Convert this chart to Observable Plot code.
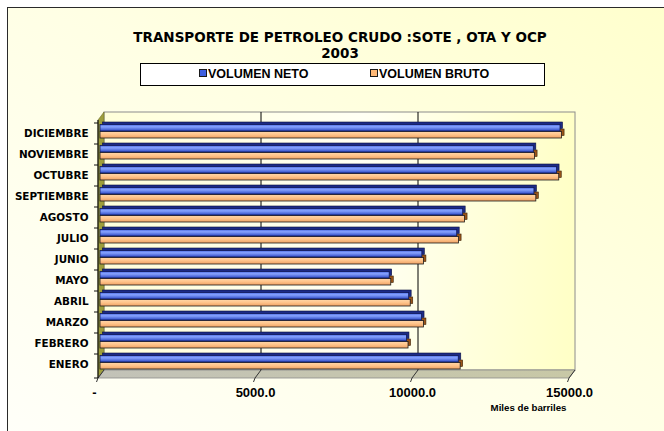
<!DOCTYPE html>
<html>
<head>
<meta charset="utf-8">
<script src="https://cdn.jsdelivr.net/npm/d3@7"></script>
<script src="https://cdn.jsdelivr.net/npm/@observablehq/plot@0.6"></script>
<style>
  html, body { margin: 0; padding: 0; background: #ffffff; }
  #wrap { position: relative; width: 664px; height: 431px; overflow: hidden; background: #ffffff; }
  #frame { position: absolute; left: 7px; top: 7px; width: 680px; height: 450px;
    border-left: 1px solid #2a2a2a; border-top: 1px solid #2a2a2a;
    background: linear-gradient(to bottom left, #FFFFCC 0%, #FFFFE4 45%, #FFFFFA 100%); }
  #title { position: absolute; left: 0; top: 29px; width: 680px; text-align: center;
    font-family: "DejaVu Sans", sans-serif; font-weight: bold; font-size: 13.5px; line-height: 16px; color: #000; }
  #legend { position: absolute; left: 140px; top: 63px; width: 403px; height: 21px;
    background: #fff; border: 1px solid #000; box-sizing: content-box;
    font-family: "Liberation Sans", Arial, sans-serif; font-weight: bold; font-size: 12.5px; color: #000; }
  .li { position: absolute; top: 3px; line-height: 15px; white-space: nowrap; }
  .sw { display: inline-block; width: 6px; height: 6px; border: 1px solid #1a1a1a; margin-right: 1px; vertical-align: 1px; }
  #chart { position: absolute; left: 0; top: 0; }
</style>
</head>
<body>
<svg width="0" height="0" style="position:absolute">
  <defs>
    <linearGradient id="gBlue" x1="0" y1="0" x2="0" y2="1">
      <stop offset="0%" stop-color="#4C6CE4"/>
      <stop offset="35%" stop-color="#88A4FF"/>
      <stop offset="100%" stop-color="#2C48C4"/>
    </linearGradient>
    <linearGradient id="gOrange" x1="0" y1="0" x2="0" y2="1">
      <stop offset="0%" stop-color="#FFD6A8"/>
      <stop offset="45%" stop-color="#FFC58C"/>
      <stop offset="100%" stop-color="#F0A264"/>
    </linearGradient>
    <linearGradient id="gWall" x1="0" y1="0" x2="1" y2="0">
      <stop offset="0%" stop-color="#FFFFDA"/>
      <stop offset="55%" stop-color="#FFFFF4"/>
      <stop offset="100%" stop-color="#FFFFC6"/>
    </linearGradient>
    <linearGradient id="gFloor" x1="0" y1="0" x2="1" y2="0">
      <stop offset="0%" stop-color="#C2C2B8"/>
      <stop offset="100%" stop-color="#C8C8A6"/>
    </linearGradient>
  </defs>
</svg>
<div id="wrap">
  <div id="frame"></div>
  <div id="chart"></div>
  <div id="title"></div>
  <div id="legend"></div>
</div>
<script>
// ---- data ----
const titleLines = ["TRANSPORTE DE PETROLEO CRUDO :SOTE , OTA Y OCP", "2003"];
const months = ["ENERO","FEBRERO","MARZO","ABRIL","MAYO","JUNIO","JULIO","AGOSTO","SEPTIEMBRE","OCTUBRE","NOVIEMBRE","DICIEMBRE"];
const volumenNeto  = [11410, 9760, 10240, 9830, 9210, 10250, 11360, 11550, 13820, 14540, 13800, 14650];
const volumenBruto = [11470, 9810, 10300, 9880, 9260, 10300, 11420, 11610, 13880, 14610, 13840, 14700];
const seriesNames = ["VOLUMEN NETO", "VOLUMEN BRUTO"];
const seriesColors = ["#3F5FE0", "#FFB978"];
const xTicks = [0, 5000, 10000, 15000];
const xTickLabels = ["-", "5000.0", "10000.0", "15000.0"];
const xLabel = "Miles de barriles";

// ---- tables ----
const neto = months.map((m, i) => ({month: m, value: volumenNeto[i]}));
const bruto = months.map((m, i) => ({month: m, value: volumenBruto[i]}));
const xMax = xTicks[xTicks.length - 1];

// ---- title & legend ----
document.getElementById("title").innerHTML = titleLines.join("<br>");
const leg = document.getElementById("legend");
[[58], [229]].forEach(([left], i) => {
  const d = document.createElement("div");
  d.className = "li";
  d.style.left = left + "px";
  d.innerHTML = `<span class="sw" style="background:${seriesColors[i]}"></span>${seriesNames[i]}`;
  leg.appendChild(d);
});

// ---- 3D walls, floor and axis lines drawn from the scales ----
const DX = 6, DY = -8;
function walls(index, scales, values, dim) {
  const x = scales.x;
  const x0 = x(0), x1 = x(xMax);
  const top = dim.marginTop, bot = dim.height - dim.marginBottom;
  const g = d3.create("svg:g");
  // back wall
  g.append("rect").attr("x", x0 + DX).attr("y", top + DY)
    .attr("width", x1 - x0).attr("height", bot - top)
    .attr("fill", "url(#gWall)").attr("stroke", "#8c8c8c").attr("stroke-width", 1);
  // gridlines on back wall
  xTicks.slice(1, -1).forEach(t => {
    g.append("line").attr("x1", x(t) + DX).attr("x2", x(t) + DX)
      .attr("y1", top + DY).attr("y2", bot + DY).attr("stroke", "#000").attr("stroke-width", 1);
  });
  // left wall
  g.append("polygon")
    .attr("points", [[x0, top], [x0 + DX, top + DY], [x0 + DX, bot + DY], [x0, bot]].join(" "))
    .attr("fill", "#9E9E3C").attr("stroke", "#6f6f2a").attr("stroke-width", 0.6);
  // floor
  g.append("polygon")
    .attr("points", [[x0, bot], [x0 + DX, bot + DY], [x1 + DX, bot + DY], [x1, bot]].join(" "))
    .attr("fill", "url(#gFloor)").attr("stroke", "#8c8c8c").attr("stroke-width", 0.8);
  // floor tick lines
  xTicks.forEach(t => {
    g.append("line").attr("x1", x(t) + DX).attr("y1", bot + DY).attr("x2", x(t)).attr("y2", bot)
      .attr("stroke", "#333").attr("stroke-width", 1);
    g.append("line").attr("x1", x(t)).attr("y1", bot).attr("x2", x(t) - 1.5).attr("y2", bot + 4)
      .attr("stroke", "#333").attr("stroke-width", 1);
  });
  return g.node();
}
function axisLines(index, scales, values, dim) {
  const x = scales.x, y = scales.y;
  const x0 = x(0);
  const top = dim.marginTop, bot = dim.height - dim.marginBottom;
  const g = d3.create("svg:g");
  g.append("line").attr("x1", x0).attr("x2", x0).attr("y1", top).attr("y2", bot)
    .attr("stroke", "#111").attr("stroke-width", 1.2);
  const ys = months.map(m => y(m)).concat([bot]);
  ys.forEach(v => g.append("line").attr("x1", x0 - 4).attr("x2", x0).attr("y1", v).attr("y2", v)
    .attr("stroke", "#111").attr("stroke-width", 1));
  return g.node();
}

const barBase = {x: "value", y: "month"};
const blueIn = {insetTop: 3.5, insetBottom: 11};
const orangeIn = {insetTop: 10.5, insetBottom: 4};

const plot = Plot.plot({
  width: 664,
  height: 431,
  marginLeft: 98,
  marginRight: 95,
  marginTop: 120,
  marginBottom: 53,
  style: {background: "transparent", fontFamily: "DejaVu Sans", overflow: "visible", color: "#000"},
  x: {domain: [0, xMax]},
  y: {domain: months.slice().reverse(), padding: 0},
  marks: [
    walls,
    // depth (top + side faces)
    Plot.barX(bruto, {...barBase, ...orangeIn, dx: 4.5, dy: -4.5, fill: "#9A5418", stroke: "#3a2008", strokeWidth: 0.6}),
    Plot.barX(neto,  {...barBase, ...blueIn,   dx: 4.5, dy: -4.5, fill: "#1C2A86", stroke: "#0c1240", strokeWidth: 0.6}),
    // front faces
    Plot.barX(bruto, {...barBase, ...orangeIn, dx: 2, dy: -2, fill: "url(#gOrange)", stroke: "#1a1a1a", strokeWidth: 0.8}),
    Plot.barX(neto,  {...barBase, ...blueIn,   dx: 2, dy: -2, fill: "url(#gBlue)", stroke: "#111a55", strokeWidth: 0.8}),
    axisLines,
    Plot.axisY({tickSize: 0, tickPadding: 10, label: null, fontFamily: "DejaVu Sans", fontWeight: "bold", fontSize: 10.4, fill: "#000"}),
    Plot.axisX(xTicks.slice(1), {tickSize: 0, tickPadding: 9, label: null,
      tickFormat: d => xTickLabels[xTicks.indexOf(d)],
      fontFamily: "Liberation Sans", fontWeight: "bold", fontSize: 13, fill: "#000"}),
    Plot.axisX([xTicks[0]], {tickSize: 0, tickPadding: 9, label: null, dx: -4,
      tickFormat: d => xTickLabels[xTicks.indexOf(d)],
      fontFamily: "Liberation Sans", fontWeight: "bold", fontSize: 13, fill: "#000"}),
    Plot.text([xLabel], {frameAnchor: "bottom-right", textAnchor: "end", lineAnchor: "middle", dx: -3, dy: 29,
      fontFamily: "Liberation Sans", fontWeight: "bold", fontSize: 9.7, fill: "#000"})
  ]
});
document.getElementById("chart").appendChild(plot);
</script>
</body>
</html>
